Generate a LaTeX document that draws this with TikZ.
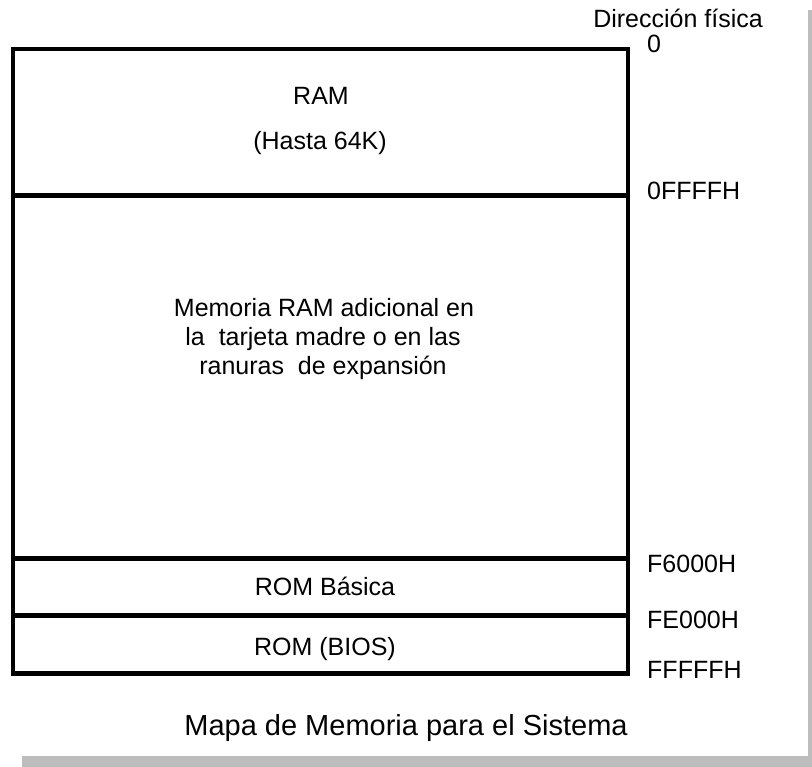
\documentclass[tikz,border=0pt]{standalone}
\usepackage{fontspec}
\setmainfont{Liberation Sans}
\usetikzlibrary{positioning}
\definecolor{shadowgray}{RGB}{189,189,189}
\tikzset{
  region/.style={draw,line width=4.5pt,rectangle,minimum width=615pt,inner sep=0pt},
  memtext/.style={font=\fontsize{25}{29}\selectfont,inner sep=0pt,anchor=base},
  addr/.style={memtext,anchor=base west},
  caption/.style={font=\fontsize{29}{34}\selectfont,inner sep=0pt,anchor=base}
}
\begin{document}
\begin{tikzpicture}[x=1pt,y=-1pt]
  \useasboundingbox[fill=white] (0,0) rectangle (812,767);
  % shadow of the frame
  \fill[shadowgray] (808,10) rectangle (812,767);
  \fill[shadowgray] (22,756) rectangle (812,767);
  % memory regions
  \node[region,minimum height=146.5pt] (ram) at (320.5,122.25) {};
  \node[region,minimum height=363pt] (ext) at (320.5,377) {};
  \node[region,minimum height=57pt] (basic) at (320.5,587) {};
  \node[region,minimum height=58pt] (bios) at (320.5,644.5) {};
  % region texts
  \node[memtext] (ramname) at (321,105) {RAM};
  \node[memtext] (ramsize) at (320,150) {(Hasta 64K)};
  \node[memtext] (extl1) at (324,317) {Memoria RAM adicional en};
  \node[memtext] (extl2) at (323,346) {la\ \ tarjeta madre o en las};
  \node[memtext] (extl3) at (323,375) {ranuras\ \ de expansión};
  \node[memtext] (basicname) at (325,595) {ROM Básica};
  \node[memtext] (biosname) at (325,655) {ROM (BIOS)};
  % physical addresses
  \node[memtext] (head) at (678,28) {Dirección física};
  \node[addr] (a0) at (647,53) {0};
  \node[addr] (a1) at (647,200) {0FFFFH};
  \node[addr] (a2) at (647,572) {F6000H};
  \node[addr] (a3) at (647,628) {FE000H};
  \node[addr] (a4) at (647,678) {FFFFFH};
  \node[caption] (title) at (406,735) {Mapa de Memoria para el Sistema};
\end{tikzpicture}
\end{document}
